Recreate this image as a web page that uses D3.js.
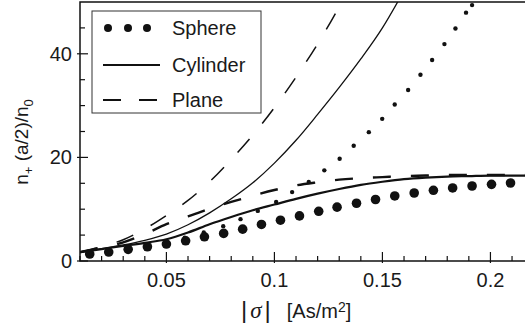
<!DOCTYPE html>
<html>
<head>
<meta charset="utf-8">
<script src="https://cdn.jsdelivr.net/npm/d3@7"></script>
<style>
  body { margin: 0; background: #fff; }
  text { font-family: "Liberation Sans", Arial, Helvetica, sans-serif; fill: #1a1a1a; }
</style>
</head>
<body>
<div id="chart"></div>
<script>
// size of the picture and the plot area
var svgWidth = 525;
var svgHeight = 330;
var margin = { top: 2, right: 0, bottom: 69, left: 80 };
var chartWidth = svgWidth - margin.left - margin.right;
var chartHeight = svgHeight - margin.top - margin.bottom;

// ticks
var xMajorTicks = [0.05, 0.1, 0.15, 0.2];
var xTickLabels = ["0.05", "0.1", "0.15", "0.2"];
var xMinorTicks = [0.01,0.02,0.03,0.04,0.06,0.07,0.08,0.09,0.11,0.12,0.13,0.14,0.16,0.17,0.18,0.19,0.21];
var yMajorTicks = [0, 20, 40];
var yMinorTicks = [5, 10, 15, 25, 30, 35, 45];

// sphere, big dots (saturating)
var sphereSat = [[0.0145,1.35],[0.0233,1.73],[0.0323,2.25],[0.0412,2.75],[0.0500,3.27],[0.0589,3.9],
  [0.0676,4.67],[0.0765,5.33],[0.0853,6.15],[0.0940,7.06],[0.1028,7.88],[0.1116,8.71],[0.1205,9.6],
  [0.1290,10.4],[0.1380,11.15],[0.1468,11.87],[0.1557,12.56],[0.1647,13.13],[0.1736,13.65],
  [0.1825,14.1],[0.1915,14.48],[0.2005,14.8],[0.2093,15.06]];

// sphere, small dots (steep)
var sphereSteep = [[0.0145,1.5],[0.0232,1.9],[0.032,2.4],[0.041,2.95],[0.0497,3.6],[0.0585,4.5],
  [0.0673,5.52],[0.0763,6.73],[0.0843,8.08],[0.0923,9.67],[0.1008,11.4],[0.1082,13.3],[0.1159,15.25],
  [0.1231,17.5],[0.1302,19.75],[0.1367,22.25],[0.1437,24.87],[0.1499,27.44],[0.1557,30.2],
  [0.1619,33.0],[0.1676,35.96],[0.1730,38.8],[0.1787,41.87],[0.1838,44.87],[0.1887,47.94],[0.1915,49.4]];

// cylinder, solid lines
var cylinderSteep = [[0.01,1.7],[0.02,2.4],[0.03,3.1],[0.04,4.0],[0.05,5.2],[0.06,7.0],[0.07,9.3],
  [0.08,12.0],[0.09,15.1],[0.10,18.9],[0.11,23.3],[0.12,28.3],[0.13,33.5],[0.14,39.0],[0.15,45.0],[0.16,52.2]];
var cylinderSat = [[0.01,1.7],[0.02,2.3],[0.03,2.9],[0.04,3.5],[0.05,4.2],[0.06,5.5],[0.07,7.1],
  [0.08,8.5],[0.09,9.8],[0.10,10.9],[0.11,12.0],[0.12,13.0],[0.13,13.9],[0.14,14.7],[0.15,15.3],
  [0.16,15.8],[0.17,16.1],[0.18,16.3],[0.19,16.4],[0.20,16.5],[0.22,16.5]];

// plane, dashed lines
var planeSteep = [[0.01,1.7],[0.02,2.8],[0.03,4.1],[0.04,6.2],[0.05,8.8],[0.06,11.7],[0.07,15.3],
  [0.08,19.6],[0.09,24.3],[0.10,29.6],[0.11,35.5],[0.12,41.9],[0.13,49.0],[0.135,52.5]];
var planeSat = [[0.01,1.7],[0.02,2.6],[0.03,3.6],[0.04,5.2],[0.05,7.1],[0.06,8.6],[0.07,10.1],
  [0.08,11.4],[0.09,12.6],[0.10,13.7],[0.11,14.6],[0.12,15.2],[0.13,15.7],[0.14,16.0],[0.15,16.2],
  [0.16,16.4],[0.17,16.5],[0.18,16.6],[0.22,16.6]];

var legendNames = ["Sphere", "Cylinder", "Plane"];

var svg = d3.select("#chart").append("svg")
  .attr("width", svgWidth)
  .attr("height", svgHeight);

var x = d3.scaleLinear().domain([0.01, 0.216]).range([0, chartWidth]);
var y = d3.scaleLinear().domain([0, 50]).range([chartHeight, 0]);

var chartGroup = svg.append("g")
  .attr("transform", `translate(${margin.left}, ${margin.top})`);

chartGroup.append("clipPath").attr("id", "clip")
  .append("rect").attr("width", chartWidth).attr("height", chartHeight);

var plot = chartGroup.append("g").attr("clip-path", "url(#clip)");

var line = d3.line()
  .x(d => x(d[0]))
  .y(d => y(d[1]))
  .curve(d3.curveMonotoneX);

// curves
plot.append("path").datum(planeSteep).attr("d", line)
  .attr("fill", "none").attr("stroke", "#111").attr("stroke-width", 1.5)
  .attr("stroke-dasharray", "18,20");
plot.append("path").datum(cylinderSteep).attr("d", line)
  .attr("fill", "none").attr("stroke", "#111").attr("stroke-width", 1.3);
plot.append("path").datum(planeSat).attr("d", line)
  .attr("fill", "none").attr("stroke", "#111").attr("stroke-width", 2.4)
  .attr("stroke-dasharray", "18,20");
plot.append("path").datum(cylinderSat).attr("d", line)
  .attr("fill", "none").attr("stroke", "#111").attr("stroke-width", 2.2);

plot.selectAll(".small").data(sphereSteep).enter().append("circle")
  .attr("cx", d => x(d[0])).attr("cy", d => y(d[1])).attr("r", 2.2).attr("fill", "#111");
plot.selectAll(".big").data(sphereSat).enter().append("circle")
  .attr("cx", d => x(d[0])).attr("cy", d => y(d[1])).attr("r", 4.8).attr("fill", "#111");

// frame: left, bottom and top
chartGroup.append("path")
  .attr("d", `M${chartWidth},0H0V${chartHeight}H${chartWidth}`)
  .attr("fill", "none").attr("stroke", "#111").attr("stroke-width", 1.5);

// ticks
xMinorTicks.forEach(function(t) {
  chartGroup.append("line").attr("x1", x(t)).attr("x2", x(t))
    .attr("y1", chartHeight).attr("y2", chartHeight - 5)
    .attr("stroke", "#111").attr("stroke-width", 1.2);
});
xMajorTicks.forEach(function(t, i) {
  chartGroup.append("line").attr("x1", x(t)).attr("x2", x(t))
    .attr("y1", chartHeight + 2).attr("y2", chartHeight - 9)
    .attr("stroke", "#111").attr("stroke-width", 1.2);
  chartGroup.append("text").attr("x", x(t)).attr("y", chartHeight + 26)
    .attr("text-anchor", "middle").attr("font-size", 20).text(xTickLabels[i]);
});
yMinorTicks.forEach(function(t) {
  chartGroup.append("line").attr("x1", 0).attr("x2", 5)
    .attr("y1", y(t)).attr("y2", y(t))
    .attr("stroke", "#111").attr("stroke-width", 1.2);
});
yMajorTicks.forEach(function(t) {
  chartGroup.append("line").attr("x1", -3).attr("x2", 8)
    .attr("y1", y(t)).attr("y2", y(t))
    .attr("stroke", "#111").attr("stroke-width", 1.2);
  chartGroup.append("text").attr("x", -8).attr("y", y(t))
    .attr("text-anchor", "end").attr("dominant-baseline", "central")
    .attr("font-size", 20).text(t);
});

// axis labels
var yLab = svg.append("text")
  .attr("transform", "translate(28, 142) rotate(-90)")
  .attr("text-anchor", "middle").attr("font-size", 19);
yLab.append("tspan").text("n");
yLab.append("tspan").attr("font-size", 13).attr("dy", 5).text("+");
yLab.append("tspan").attr("dy", -5).text(" (a/2)/n");
yLab.append("tspan").attr("font-size", 13).attr("dy", 5).text("0");

var xLab = svg.append("text")
  .attr("x", 241).attr("y", 318)
  .attr("font-size", 20);
xLab.append("tspan").attr("font-size", 24).attr("font-weight", 300).text("|");
xLab.append("tspan").attr("dx", 3).attr("font-style", "italic")
  .attr("font-family", "Liberation Serif").attr("font-size", 23).text("σ");
xLab.append("tspan").attr("dx", 3).attr("font-size", 24).text("|");
xLab.append("tspan").attr("dx", 16).text("[As/m");
xLab.append("tspan").attr("font-size", 14).attr("dy", -6).text("2");
xLab.append("tspan").attr("dy", 6).text("]");

// legend
var legend = svg.append("g");
legend.append("rect").attr("x", 92).attr("y", 11).attr("width", 169).attr("height", 102)
  .attr("fill", "#fff").attr("stroke", "#333").attr("stroke-width", 1);
var rowY = [28, 65, 100];
[108, 128, 147].forEach(function(cx) {
  legend.append("circle").attr("cx", cx).attr("cy", rowY[0]).attr("r", 4).attr("fill", "#111");
});
legend.append("line").attr("x1", 103).attr("x2", 160).attr("y1", rowY[1]).attr("y2", rowY[1])
  .attr("stroke", "#111").attr("stroke-width", 2);
legend.append("line").attr("x1", 103).attr("x2", 160).attr("y1", rowY[2]).attr("y2", rowY[2])
  .attr("stroke", "#111").attr("stroke-width", 2).attr("stroke-dasharray", "18,18");
legendNames.forEach(function(name, i) {
  legend.append("text").attr("x", 172).attr("y", rowY[i])
    .attr("dominant-baseline", "central").attr("font-size", 20).text(name);
});
</script>
</body>
</html>
